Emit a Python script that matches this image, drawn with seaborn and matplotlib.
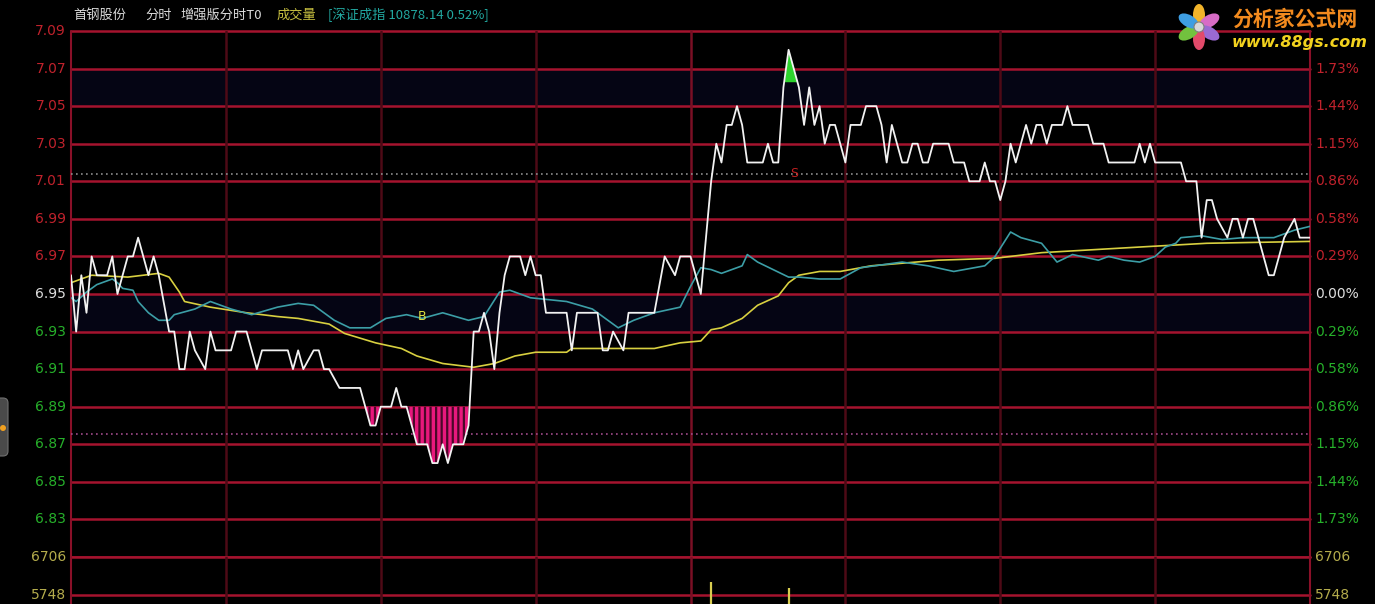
import numpy as np
import pandas as pd
import matplotlib
matplotlib.use("Agg")
import matplotlib.pyplot as plt
import seaborn as sns
from matplotlib.patches import Ellipse, Circle, FancyBboxPatch

sns.set_style("dark")
plt.rcParams['font.family'] = ['DejaVu Sans', 'Noto Sans CJK SC']
plt.rcParams['hatch.linewidth'] = 1.6

# ---------------- data ----------------
prev_close = 6.95
price_min = [0, 1, 2, 3, 4, 5, 7, 8, 9, 11, 12, 13, 15, 16, 17, 19, 20, 21, 22, 23, 24, 26, 27, 28, 31,
             32, 34, 36, 37, 42, 43, 44, 45, 47, 48, 49, 50, 52, 56, 57, 58, 59, 60, 62, 63, 64, 65, 66,
             67, 69, 70, 71, 72, 73, 74, 76, 77, 78, 79, 80, 81, 82, 83, 84, 85, 87, 88, 89, 90, 91, 92,
             96, 97, 98, 102, 103, 104, 105, 107, 108, 113, 115, 117, 118, 120, 121, 122, 124, 125, 126,
             127, 128, 129, 130, 131, 134, 135, 136, 137, 138, 139, 140, 141, 142, 143, 144, 145, 146,
             147, 148, 149, 150, 151, 153, 154, 156, 157, 158, 159, 160, 161, 162, 163, 164, 165, 166,
             167, 170, 171, 173, 174, 176, 177, 178, 179, 180, 181, 182, 183, 185, 186, 187, 188, 189,
             190, 192, 193, 194, 197, 198, 200, 201, 206, 207, 208, 209, 210, 215, 216, 218, 219, 220,
             221, 222, 224, 225, 226, 227, 228, 229, 232, 233, 235, 237, 238, 240]
price_val = [6.96, 6.93, 6.96, 6.94, 6.97, 6.96, 6.96, 6.97, 6.95, 6.97, 6.97, 6.98, 6.96, 6.97, 6.96,
             6.93, 6.93, 6.91, 6.91, 6.93, 6.92, 6.91, 6.93, 6.92, 6.92, 6.93, 6.93, 6.91, 6.92, 6.92,
             6.91, 6.92, 6.91, 6.92, 6.92, 6.91, 6.91, 6.90, 6.90, 6.89, 6.88, 6.88, 6.89, 6.89, 6.90,
             6.89, 6.89, 6.88, 6.87, 6.87, 6.86, 6.86, 6.87, 6.86, 6.87, 6.87, 6.88, 6.93, 6.93, 6.94,
             6.93, 6.91, 6.94, 6.96, 6.97, 6.97, 6.96, 6.97, 6.96, 6.96, 6.94, 6.94, 6.92, 6.94, 6.94,
             6.92, 6.92, 6.93, 6.92, 6.94, 6.94, 6.97, 6.96, 6.97, 6.97, 6.96, 6.95, 7.01, 7.03, 7.02,
             7.04, 7.04, 7.05, 7.04, 7.02, 7.02, 7.03, 7.02, 7.02, 7.06, 7.08, 7.07, 7.06, 7.04, 7.06,
             7.04, 7.05, 7.03, 7.04, 7.04, 7.03, 7.02, 7.04, 7.04, 7.05, 7.05, 7.04, 7.02, 7.04, 7.03,
             7.02, 7.02, 7.03, 7.03, 7.02, 7.02, 7.03, 7.03, 7.02, 7.02, 7.01, 7.01, 7.02, 7.01, 7.01,
             7.00, 7.01, 7.03, 7.02, 7.04, 7.03, 7.04, 7.04, 7.03, 7.04, 7.04, 7.05, 7.04, 7.04, 7.03,
             7.03, 7.02, 7.02, 7.03, 7.02, 7.03, 7.02, 7.02, 7.01, 7.01, 6.98, 7.00, 7.00, 6.99, 6.98,
             6.99, 6.99, 6.98, 6.99, 6.99, 6.96, 6.96, 6.98, 6.99, 6.98, 6.98]

avg_min = [0, 4, 11, 17, 19, 21, 22, 27, 34, 40, 44, 50, 53, 59, 64, 67, 72, 78, 82, 86, 90, 96, 97,
           113, 118, 122, 124, 126, 130, 133, 137, 139, 141, 145, 149, 155, 168, 179, 188, 207, 220, 240]
avg_val = [6.956, 6.960, 6.959, 6.961, 6.959, 6.951, 6.946, 6.943, 6.940, 6.938, 6.937, 6.934, 6.929,
           6.924, 6.921, 6.917, 6.913, 6.911, 6.913, 6.917, 6.919, 6.919, 6.921, 6.921, 6.924, 6.925,
           6.931, 6.932, 6.937, 6.944, 6.949, 6.956, 6.960, 6.962, 6.962, 6.965, 6.968, 6.969, 6.972,
           6.975, 6.977, 6.978]

idx_min = [0, 1, 3, 5, 8, 9, 10, 12, 13, 15, 17, 19, 20, 24, 27, 29, 31, 35, 40, 44, 47, 51, 54, 58,
           61, 65, 68, 72, 77, 80, 83, 85, 89, 96, 101, 106, 109, 113, 118, 120, 122, 124, 126, 130,
           131, 133, 136, 139, 141, 145, 149, 153, 161, 166, 171, 177, 179, 182, 184, 188, 191, 194,
           199, 201, 204, 207, 210, 212, 214, 215, 219, 223, 227, 233, 237, 240]
idx_val = [6.948, 6.946, 6.951, 6.955, 6.958, 6.956, 6.953, 6.952, 6.946, 6.940, 6.936, 6.936, 6.939,
           6.942, 6.946, 6.944, 6.942, 6.939, 6.943, 6.945, 6.944, 6.936, 6.932, 6.932, 6.937, 6.939,
           6.937, 6.940, 6.936, 6.938, 6.951, 6.952, 6.948, 6.946, 6.942, 6.932, 6.936, 6.940, 6.943,
           6.954, 6.964, 6.963, 6.961, 6.965, 6.971, 6.967, 6.963, 6.959, 6.959, 6.958, 6.958, 6.964,
           6.967, 6.965, 6.962, 6.965, 6.970, 6.983, 6.980, 6.977, 6.967, 6.971, 6.968, 6.970, 6.968,
           6.967, 6.970, 6.975, 6.977, 6.980, 6.981, 6.979, 6.980, 6.980, 6.984, 6.986]

vol_min = [124, 139]
vol_val = [6076, 5925]

buy_signal = (68, 6.938)
sell_signal = (140, 7.014)
upper_t0 = 7.014
lower_t0 = 6.8755
low_zone = 6.89
high_zone = 7.063

price_levels = [7.09, 7.07, 7.05, 7.03, 7.01, 6.99, 6.97, 6.95, 6.93, 6.91, 6.89, 6.87, 6.85, 6.83]
left_labels = ['7.09', '7.07', '7.05', '7.03', '7.01', '6.99', '6.97', '6.95', '6.93', '6.91',
               '6.89', '6.87', '6.85', '6.83']
right_labels = ['', '1.73%', '1.44%', '1.15%', '0.86%', '0.58%', '0.29%', '0.00%', '0.29%',
                '0.58%', '0.86%', '1.15%', '1.44%', '1.73%']
vol_levels = [6706, 5748]
vol_labels = ['6706', '5748']
time_grid = [30, 60, 90, 120, 150, 180, 210]

title_parts = ['首钢股份', '分时', '增强版分时T0', '成交量', '[深证成指 10878.14 0.52%]']
logo_name = '分析家公式网'
logo_url = 'www.88gs.com'

# ---------------- figure ----------------
W, H = 1375, 604
fig = plt.figure(figsize=(W / 100, H / 100), dpi=100, facecolor='black')

L, R = 71, 1310
T, M = 31, 557
ax = fig.add_axes([L / W, (H - M) / H, (R - L) / W, (M - T) / H])
axv = fig.add_axes([L / W, 0, (R - L) / W, (H - M) / H])

GRID_RED = '#a5132e'
VGRID = '#4e0a16'
RED_TXT = '#c0222c'
GREEN_TXT = '#26b02a'
WHITE_TXT = '#dedede'
YEL_TXT = '#b4ac4c'

for a in (ax, axv):
    a.set_facecolor('black')
    for s in a.spines.values():
        s.set_visible(False)
    a.set_xticks([])
    a.set_yticks([])
    a.set_xlim(0, 240)
    a.grid(False)

ax.set_ylim(6.81, 7.09)
axv.set_ylim(5521, 6706)

# faint navy bands
ax.axhspan(7.05, 7.07, color='#050514', zorder=0, lw=0)
ax.axhspan(6.93, 6.95, color='#050514', zorder=0, lw=0)

# horizontal grid
for lv in price_levels + [6.81]:
    ax.axhline(lv, color=GRID_RED, lw=1.8, zorder=1, clip_on=False)
for lv in vol_levels:
    axv.axhline(lv, color=GRID_RED, lw=1.8, zorder=1, clip_on=False)

# vertical grid
for a in (ax, axv):
    for t in time_grid:
        c = '#7a0f24' if t == 120 else VGRID
        a.axvline(t, color=c, lw=1.8, zorder=1)
    a.axvline(0, color='#8a1028', lw=1.5, zorder=1, clip_on=False)
    a.axvline(240, color='#8a1028', lw=1.5, zorder=1, clip_on=False)

# T0 dotted lines
ax.axhline(upper_t0, color='#8c8c8c', lw=1.2, ls=(0, (1, 2)), zorder=2)
ax.axhline(lower_t0, color='#a04a8a', lw=1.2, ls=(0, (1, 2)), zorder=2)

pm = np.array(price_min, dtype=float)
pv = np.array(price_val, dtype=float)

# pink / green zones
ax.fill_between(pm, pv, low_zone, where=pv < low_zone, interpolate=True,
                facecolor='#e8187c', edgecolor='#4a0828', hatch='|||', lw=0, zorder=3)
ax.fill_between(pm, pv, high_zone, where=pv > high_zone, interpolate=True,
                facecolor='#2ed42e', lw=0, zorder=3)

# lines
sns.lineplot(x=avg_min, y=avg_val, ax=ax, color='#d8d040', lw=1.2, estimator=None, sort=False, zorder=4)
sns.lineplot(x=idx_min, y=idx_val, ax=ax, color='#3c9ea6', lw=1.2, estimator=None, sort=False, zorder=4)
sns.lineplot(x=price_min, y=price_val, ax=ax, color='#f2f2f2', lw=1.3, estimator=None, sort=False, zorder=5)

# volume bars
axv.vlines(vol_min, 5521, vol_val, color='#d8cc50', lw=1.6, zorder=4)

# signals
ax.text(buy_signal[0], buy_signal[1], 'B', color='#e0e040', fontsize=9, ha='center', va='center', zorder=6)
ax.text(sell_signal[0], sell_signal[1], 'S', color='#c02020', fontsize=9, ha='center', va='center', zorder=6)

# axis labels
ytl = ax.get_yaxis_transform()
for lv, lt, rt in zip(price_levels, left_labels, right_labels):
    if lv > prev_close + 1e-9:
        c = RED_TXT
    elif abs(lv - prev_close) < 1e-9:
        c = WHITE_TXT
    else:
        c = GREEN_TXT
    ax.text(-0.004, lv, lt, transform=ytl, ha='right', va='center', color=c, fontsize=10)
    if rt:
        ax.text(1.004, lv, rt, transform=ytl, ha='left', va='center', color=c, fontsize=10)
vtl = axv.get_yaxis_transform()
for lv, lt in zip(vol_levels, vol_labels):
    axv.text(-0.004, lv, lt, transform=vtl, ha='right', va='center', color=YEL_TXT, fontsize=10)
    axv.text(1.004, lv, lt, transform=vtl, ha='left', va='center', color=YEL_TXT, fontsize=10)

# overlay (title, logo, side tab) in pixel coordinates
ov = fig.add_axes([0, 0, 1, 1], zorder=10)
ov.set_xlim(0, W)
ov.set_ylim(H, 0)
ov.axis('off')
ov.patch.set_alpha(0)

cjk = ['Noto Sans CJK SC', 'DejaVu Sans']
title_x = [73, 145, 180, 277, 328]
title_c = ['#dadada', '#dadada', '#dadada', '#c8c040', '#22a8a0']
for txt, x, c in zip(title_parts, title_x, title_c):
    ov.text(x, 15, txt, color=c, fontsize=9.5, family=cjk, ha='left', va='center')

# logo flower
fc = (1199, 27)
petal_cols = ['#f2b42a', '#d86cc6', '#9a6ad2', '#e24a6a', '#72c23e', '#3e9ee2']
for ang, col in zip([90, 30, -30, -90, -150, 150], petal_cols):
    r = np.deg2rad(ang)
    cx = fc[0] + 12 * np.cos(r)
    cy = fc[1] - 12 * np.sin(r)
    ov.add_patch(Ellipse((cx, cy), 22, 12, angle=-ang, facecolor=col, edgecolor='none'))
ov.add_patch(Circle(fc, 5, facecolor='#d8d8d8', edgecolor='#808080', lw=0.8))
ov.text(1232, 19, logo_name, color='#f28a1e', fontsize=15, fontweight='bold', family=cjk,
        ha='left', va='center')
ov.text(1232, 43, logo_url, color='#f2d21e', fontsize=11.5, fontweight='bold', style='italic',
        ha='left', va='center')

# left side tab
ov.add_patch(FancyBboxPatch((-6, 398), 14, 58, boxstyle='round,pad=0,rounding_size=5',
                            facecolor='#4a4a4a', edgecolor='#707070', lw=0.8))
ov.add_patch(Circle((3, 428), 3, facecolor='#f0a020', edgecolor='none'))

fig.savefig('out.png', dpi=100, facecolor='black')
